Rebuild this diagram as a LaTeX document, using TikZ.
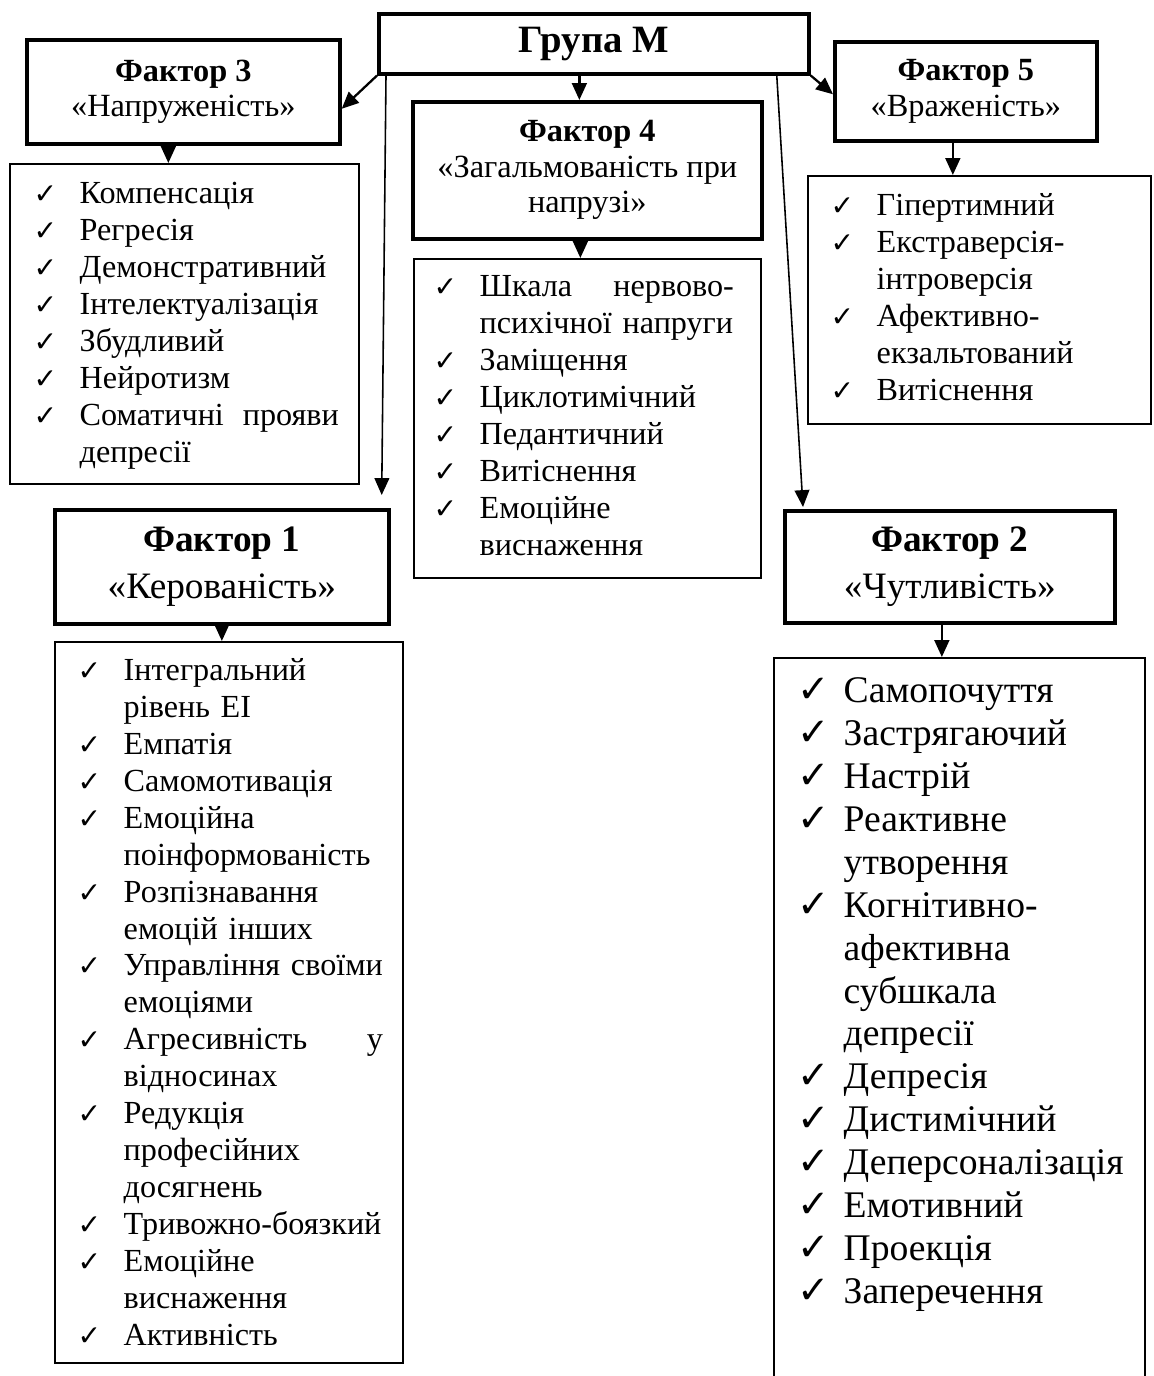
\documentclass[tikz,border=0pt]{standalone}
\usepackage{fontspec}
\setmainfont{Liberation Serif}
\newfontfamily\ckfont{DejaVu Sans}
\usetikzlibrary{arrows.meta, calc}

\newlength{\ckw}\setlength{\ckw}{0.46cm}
\newcommand{\ck}{\makebox[\ckw][l]{\ckfont\fontsize{8}{8}\selectfont ✓}}
\newcommand{\bck}{\makebox[\ckw][l]{\ckfont\fontsize{11}{11}\selectfont ✓}}
\newcommand{\nx}{\hspace*{\ckw}}
\newcommand{\spread}{\hspace{0pt plus 1filll}}

\begin{document}
\begin{tikzpicture}[
    x=0.01cm, y=-0.01cm,
    hdr/.style={draw, line width=1pt, anchor=north west, align=center, inner sep=0pt, font=\fontsize{9.2}{10.1}\selectfont},
    bighdr/.style={hdr, font=\fontsize{10.6}{13.4}\selectfont},
    listbox/.style={draw, line width=0.5pt, anchor=north west, inner sep=0pt},
    listtext/.style={anchor=north west, inner sep=0pt, align=left, font=\fontsize{9.15}{10.5}\selectfont},
    arr/.style={-{Triangle[length=4.8pt,width=4.2pt]}, line width=0.65pt},
    longarr/.style={arr, line width=0.45pt}
]
\useasboundingbox (0,0) rectangle (1153,1376);

% ============ GROUP ============
\node[hdr, minimum width=4.30cm, minimum height=0.60cm, font=\fontsize{11}{12}\selectfont\bfseries] (grp) at (377,12) {Група М};

% ============ FACTOR HEADERS ============
\node[hdr, minimum width=3.13cm, minimum height=1.04cm] (f3) at (25,38) {\textbf{Фактор 3}\\«Напруженість»};
\node[hdr, minimum width=3.49cm, minimum height=1.37cm] (f4) at (411,100) {\textbf{Фактор 4}\\«Загальмованість при\\напрузі»};
\node[hdr, minimum width=2.62cm, minimum height=0.99cm] (f5) at (833,40) {\textbf{Фактор 5}\\«Враженість»};
\node[bighdr, minimum width=3.34cm, minimum height=1.14cm] (f1) at (53,508) {\textbf{Фактор 1}\\«Керованість»};
\node[bighdr, minimum width=3.30cm, minimum height=1.12cm] (f2) at (783,509) {\textbf{Фактор 2}\\«Чутливість»};

% ============ LIST BOXES ============
\node[listbox, minimum width=3.49cm, minimum height=3.20cm] (l3) at (9,163) {};
\node[listbox, minimum width=3.47cm, minimum height=3.19cm] (l4) at (413,258) {};
\node[listbox, minimum width=3.43cm, minimum height=2.48cm] (l5) at (807,175) {};
\node[listbox, minimum width=3.48cm, minimum height=7.21cm] (l1) at (54,641) {};
\node[listbox, minimum width=3.71cm, minimum height=7.33cm] (l2) at (773,657) {};

% Factor 3 items
\node[listtext, text width=3.05cm] (t3) at (33,177) {\strut\ck Компенсація\\
\ck Регресія\\
\ck Демонстративний\\
\ck Інтелектуалізація\\
\ck Збудливий\\
\ck Нейротизм\\
\ck Соматичні\spread прояви\\
\nx депресії};

% Factor 4 items
\node[listtext, text width=3.0cm] (t4) at (433,270) {\strut\ck Шкала\spread нервово-\\
\nx психічної напруги\\
\ck Заміщення\\
\ck Циклотимічний\\
\ck Педантичний\\
\ck Витіснення\\
\ck Емоційне\\
\nx виснаження};

% Factor 5 items
\node[listtext, text width=3.0cm] (t5) at (830,189) {\strut\ck Гіпертимний\\
\ck Екстраверсія-\\
\nx інтроверсія\\
\ck Афективно-\\
\nx екзальтований\\
\ck Витіснення};

% Factor 1 items
\node[listtext, text width=3.05cm] (t1) at (77,654) {\strut\ck Інтегральний\\
\nx рівень ЕІ\\
\ck Емпатія\\
\ck Самомотивація\\
\ck Емоційна\\
\nx поінформованість\\
\ck Розпізнавання\\
\nx емоцій інших\\
\ck Управління\spread своїми\\
\nx емоціями\\
\ck Агресивність\spread у\\
\nx відносинах\\
\ck Редукція\\
\nx професійних\\
\nx досягнень\\
\ck Тривожно-боязкий\\
\ck Емоційне\\
\nx виснаження\\
\ck Активність};

% Factor 2 items
\node[listtext, text width=3.45cm, font=\fontsize{10.7}{12.2}\selectfont] (t2) at (797,672) {\strut\bck Самопочуття\\
\bck Застрягаючий\\
\bck Настрій\\
\bck Реактивне\\
\nx утворення\\
\bck Когнітивно-\\
\nx афективна\\
\nx субшкала\\
\nx депресії\\
\bck Депресія\\
\bck Дистимічний\\
\bck Деперсоналізація\\
\bck Емотивний\\
\bck Проекція\\
\bck Заперечення};

% ============ ARROWS ============
\coordinate (a4) at ($(f4.north)+(-8,0)$);
\coordinate (b4) at ($(f4.south)+(-7,0)$);
\coordinate (a3) at ($(f3.south)+(-15,0)$);
\coordinate (a5) at ($(f5.south)+(-13,0)$);
\coordinate (a2) at ($(f2.south)+(-8,0)$);
\coordinate (s1) at ($(grp.south west)+(9,0)$);
\coordinate (e1) at ($(f1.north east)+(-9,-13)$);
\coordinate (s2) at ($(grp.south east)+(-34,0)$);
\coordinate (e2) at ($(f2.north west)+(20,-2)$);

\draw[arr] (grp.south west) -- ($(f3.east)+(0,17)$);
\draw[arr] (a4 |- grp.south) -- (a4);
\draw[arr] (grp.south east) -- ($(f5.west)+(0,3)$);
\draw[longarr] (s1) -- (e1);
\draw[longarr] (s2) -- (e2);

\draw[arr] (a3) -- (a3 |- l3.north);
\draw[arr] (b4) -- (b4 |- l4.north);
\draw[arr] (a5) -- (a5 |- l5.north);
\draw[arr] (f1.south) -- (f1.south |- l1.north);
\draw[arr] (a2) -- (a2 |- l2.north);

\end{tikzpicture}
\end{document}
